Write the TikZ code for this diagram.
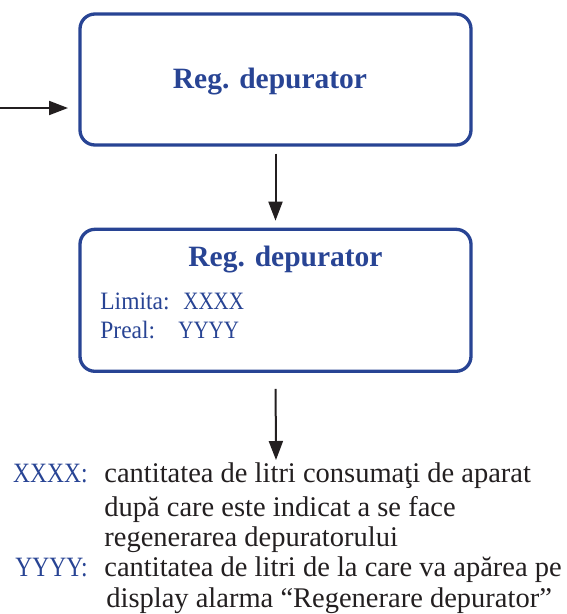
\documentclass[tikz,border=0pt]{standalone}
\usepackage{fontspec}
\setmainfont{Liberation Serif}
\usetikzlibrary{arrows.meta,positioning}
\definecolor{regblue}{RGB}{40,68,148}
\definecolor{inkblack}{RGB}{35,31,32}
\newcommand{\slimcaps}[1]{\scalebox{0.84}[1]{#1}}
\tikzset{every picture/.style={line width=0.75pt}}
\tikzset{
    regbox/.style={draw=regblue, line width=3.3pt, rounded corners=15pt,
        minimum width=391pt, inner sep=0pt},
    regtitle/.style={text=regblue, font=\fontsize{29.5}{34}\selectfont\bfseries, anchor=base, inner sep=0pt},
    regval/.style={text=regblue, font=\fontsize{25}{28}\selectfont, anchor=base west, inner sep=0pt},
    legkey/.style={text=regblue, font=\fontsize{28}{31}\selectfont, anchor=base east, inner sep=0pt},
    legtxt/.style={text=inkblack, font=\fontsize{28.5}{31}\selectfont, anchor=base west, inner sep=0pt},
    flow/.style={draw=inkblack, line width=2pt, -{Triangle[length=19pt,width=14pt]}}
}

\begin{document}
\begin{tikzpicture}[x=1pt, y=1pt]
    \useasboundingbox (0,0) rectangle (566,-614);
    % boxes
    \node[regbox, minimum height=131pt] (b1) at (275.5,-79.5) {};
    \node[regbox, minimum height=142pt, below=81pt of b1] (b2) {};
    \node[regtitle] (t1) at (270,-88) {Reg. depurator};
    \node[regtitle] (t2) at (285.5,-266) {Reg. depurator};
    \node[regval] (l1) at (100,-309) {\scalebox{0.94}[1]{Limita:}};
    \node[regval] (v1) at (183,-309) {\slimcaps{XXXX}};
    \node[regval] (l2) at (100,-338) {\scalebox{0.94}[1]{Preal:}};
    \node[regval] (v2) at (178,-338) {\slimcaps{YYYY}};
    % legend
    \node[legkey] (k1) at (88,-482) {\slimcaps{XXXX:}};
    \node[legtxt] (d1) at (104,-482) {cantitatea de litri consumaţi de aparat};
    \node[legtxt] (d2) at (104,-516) {după care este indicat a se face};
    \node[legtxt] (d3) at (104,-546) {regenerarea depuratorului};
    \node[legkey] (k2) at (88,-576) {\slimcaps{YYYY:}};
    \node[legtxt] (d4) at (104,-576) {cantitatea de litri de la care va apărea pe};
    \node[legtxt] (d5) at (106,-607) {display alarma “Regenerare depurator”};
    % arrows
    \coordinate (in) at (0,-108);
    \coordinate (out) at (276,-460);
    \draw[flow] (in) -- (68,-108);
    \draw[flow, shorten <=7pt, shorten >=7pt] (b1.south) -- (b2.north);
    \draw[flow, shorten <=16pt] (b2.south) -- (out);
\end{tikzpicture}
\end{document}
